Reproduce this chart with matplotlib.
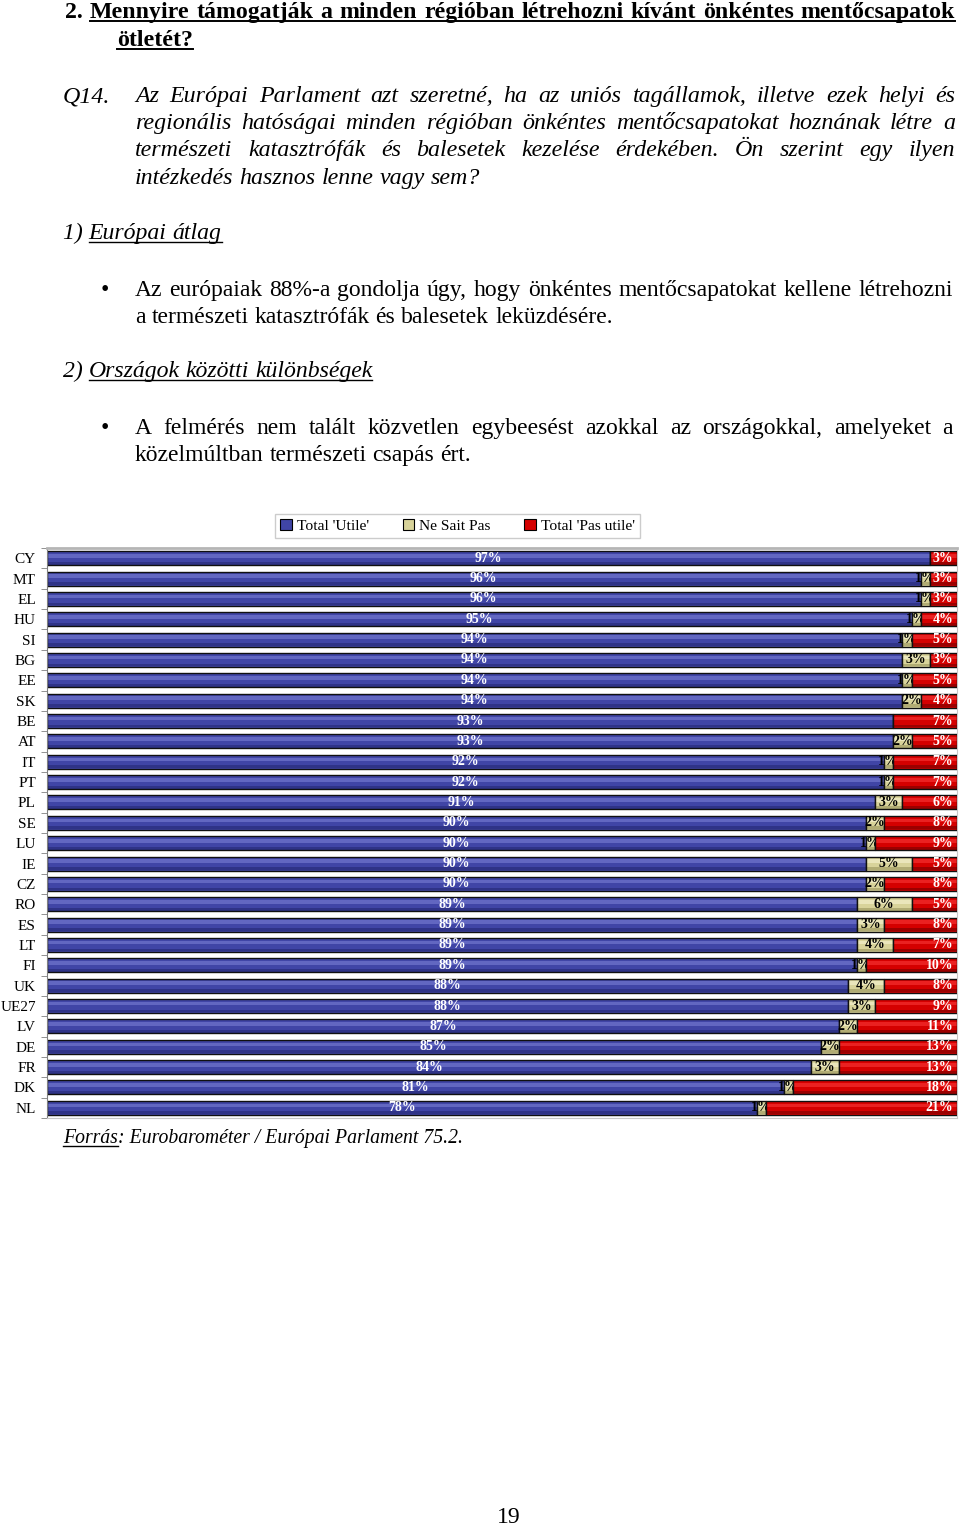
import matplotlib
matplotlib.use("Agg")
import matplotlib.pyplot as plt
from matplotlib.patches import Patch
from matplotlib.lines import Line2D
import numpy as np

# ---------------- data ----------------
countries = ["CY", "MT", "EL", "HU", "SI", "BG", "EE", "SK", "BE", "AT", "IT", "PT",
             "PL", "SE", "LU", "IE", "CZ", "RO", "ES", "LT", "FI", "UK", "UE27", "LV",
             "DE", "FR", "DK", "NL"]
utile = [97, 96, 96, 95, 94, 94, 94, 94, 93, 93, 92, 92,
         91, 90, 90, 90, 90, 89, 89, 89, 89, 88, 88, 87,
         85, 84, 81, 78]
nsp = [0, 1, 1, 1, 1, 3, 1, 2, 0, 2, 1, 1,
       3, 2, 1, 5, 2, 6, 3, 4, 1, 4, 3, 2,
       2, 3, 1, 1]
pas_utile = [3, 3, 3, 4, 5, 3, 5, 4, 7, 5, 7, 7,
             6, 8, 9, 5, 8, 5, 8, 7, 10, 8, 9, 11,
             13, 13, 18, 21]
series_names = ["Total 'Utile'", "Ne Sait Pas", "Total 'Pas utile'"]

W, H = 960, 1525
fig = plt.figure(figsize=(W / 100, H / 100), dpi=100)
R = fig.canvas.get_renderer()
SERIF = "Liberation Serif"


def fx(x):
    return x / W


def fy(y):
    return 1 - y / H


def measure(s, **kw):
    t = fig.text(0, 0, s, **kw)
    w = t.get_window_extent(R).width
    t.remove()
    return w


def fit(s, target, **kw):
    w = measure(s, fontsize=10, **kw)
    return 10.0 * target / w


def underline(x0, x1, ybase, off=3, lw=1.0):
    fig.add_artist(Line2D([fx(x0), fx(x1)], [fy(ybase + off), fy(ybase + off)],
                          transform=fig.transFigure, color="black", lw=lw))


def put_line(text, x0, x1, ybase, justify=True, **kw):
    words = text.split(" ")
    widths = [measure(w, **kw) for w in words]
    if justify and len(words) > 1:
        gap = (x1 - x0 - sum(widths)) / (len(words) - 1)
    else:
        gap = measure("a b", **kw) - measure("ab", **kw)
    x = x0
    for w, wd in zip(words, widths):
        fig.text(fx(x), fy(ybase), w, ha="left", va="baseline", **kw)
        x += wd + gap
    return x - gap


# ---------------- page text ----------------
head1 = "Mennyire támogatják a minden régióban létrehozni kívánt önkéntes mentőcsapatok"
bold_kw = dict(family=SERIF, weight="bold")
bold_kw["fontsize"] = fit(head1, 858, **bold_kw)
fig.text(fx(65), fy(18), "2.", ha="left", va="baseline", **bold_kw)
put_line(head1, 90, 955, 18, **bold_kw)
underline(90, 955, 18, off=2.5, lw=1.4)
xe = put_line("ötletét?", 117, 955, 46, justify=False, **bold_kw)
underline(117, xe, 46, off=2.5, lw=1.4)

q_kw = dict(family=SERIF, style="italic")
q_kw["fontsize"] = fit("intézkedés hasznos lenne vagy sem?", 345, **q_kw)
fig.text(fx(63), fy(102), "Q14.", ha="left", va="baseline", **q_kw)
q_lines = ["Az Európai Parlament azt szeretné, ha az uniós tagállamok, illetve ezek helyi és",
           "regionális hatóságai minden régióban önkéntes mentőcsapatokat hoznának létre a",
           "természeti katasztrófák és balesetek kezelése érdekében. Ön szerint egy ilyen",
           "intézkedés hasznos lenne vagy sem?"]
for i, ln in enumerate(q_lines):
    put_line(ln, 135, 955, 102 + 27.2 * i, justify=(i < 3), **q_kw)

it_kw = dict(family=SERIF, style="italic")
it_kw["fontsize"] = fit("2) Országok közötti különbségek", 310, **it_kw)
body_kw = dict(family=SERIF)
body_kw["fontsize"] = 0.5 * (fit("a természeti katasztrófák és balesetek leküzdésére.", 478, **body_kw)
                             + fit("közelmúltban természeti csapás ért.", 336, **body_kw))

# section 1
w1 = measure("1) ", **it_kw)
fig.text(fx(63), fy(239), "1) ", ha="left", va="baseline", **it_kw)
xe = put_line("Európai átlag", 63 + w1, 955, 239, justify=False, **it_kw)
underline(63 + w1, xe, 239, off=3)
fig.text(fx(105), fy(296), "•", ha="center", va="baseline", **body_kw)
put_line("Az európaiak 88%-a gondolja úgy, hogy önkéntes mentőcsapatokat kellene létrehozni",
         135, 953, 296, **body_kw)
put_line("a természeti katasztrófák és balesetek leküzdésére.", 135, 953, 323,
         justify=False, **body_kw)

# section 2
w2 = measure("2) ", **it_kw)
fig.text(fx(63), fy(377), "2) ", ha="left", va="baseline", **it_kw)
xe = put_line("Országok közötti különbségek", 63 + w2, 955, 377, justify=False, **it_kw)
underline(63 + w2, xe, 377, off=3)
fig.text(fx(105), fy(434), "•", ha="center", va="baseline", **body_kw)
put_line("A felmérés nem talált közvetlen egybeesést azokkal az országokkal, amelyeket a",
         135, 953, 434, **body_kw)
put_line("közelmúltban természeti csapás ért.", 135, 953, 461, justify=False, **body_kw)

# source
src_kw = dict(family=SERIF, style="italic")
src_kw["fontsize"] = fit("Forrás: Eurobarométer / Európai Parlament 75.2.", 401, **src_kw)
wf = measure("Forrás", **src_kw)
fig.text(fx(63), fy(1143), "Forrás", ha="left", va="baseline", **src_kw)
underline(63, 63 + wf, 1143, off=3)
fig.text(fx(63 + wf), fy(1143), ": Eurobarométer / Európai Parlament 75.2.",
         ha="left", va="baseline", **src_kw)

# page number
fig.text(fx(509), fy(1523), "19", ha="center", va="baseline", family=SERIF,
         fontsize=body_kw["fontsize"])

# ---------------- chart ----------------
ax = fig.add_axes([fx(47), fy(1118), (957 - 47) / W, (1118 - 548) / H])
n = len(countries)
y = np.arange(n)
utile_a = np.array(utile)
nsp_a = np.array(nsp)
pas_a = np.array(pas_utile)

h = 0.69
cols = [("#4045a6", "#6b70c8", "#2b2f80"),
        ("#d8d39a", "#efebc4", "#a8a36a"),
        ("#d50000", "#f02a2a", "#8e0000")]
lefts = [np.zeros(n), utile_a, utile_a + nsp_a]
vals = [utile_a, nsp_a, pas_a]
for k, (v, l, (cm, cl, cd)) in enumerate(zip(vals, lefts, cols)):
    z = 1 + 2 * k
    ax.barh(y, v, left=l, height=h, color=cm, edgecolor="none", zorder=z)
    ax.barh(y - 0.17 * h, v, left=l, height=0.26 * h, color=cl, edgecolor="none",
            zorder=z + 0.1, alpha=0.8)
    ax.barh(y + 0.36 * h, v, left=l, height=0.2 * h, color=cd, edgecolor="none",
            zorder=z + 0.1, alpha=0.8)
    ax.barh(y, v, left=l, height=h, fill=False, edgecolor="#101010", lw=1.0,
            zorder=z + 0.2)

lab_kw = dict(family=SERIF, weight="bold", fontsize=10, va="center")
for i in range(n):
    ax.text(utile_a[i] / 2, y[i], f"{utile_a[i]}%", ha="center", color="white",
            zorder=1.5, **lab_kw)
    if nsp_a[i] > 0:
        ax.text(utile_a[i] + nsp_a[i] / 2, y[i], f"{nsp_a[i]}%", ha="center",
                color="black", zorder=3.5, **lab_kw)
    if pas_a[i] > 0:
        ax.text(99.6, y[i], f"{pas_a[i]}%", ha="right", color="white",
                zorder=5.5, **lab_kw)

ax.set_xlim(0, 100)
ax.set_ylim(n - 0.5, -0.5)
ax.set_yticks(y)
ax.set_yticklabels(countries, family=SERIF, fontsize=11)
ax.set_yticks(np.arange(n + 1) - 0.5, minor=True)
ax.tick_params(axis="y", which="major", length=0, pad=8)
ax.tick_params(axis="y", which="minor", length=4, color="#808080", direction="out")
ax.set_xticks([])
ax.spines["left"].set_color("#808080")
ax.spines["top"].set_color("#b5b5b5")
ax.spines["top"].set_linewidth(2.0)
ax.spines["right"].set_color("#c8c8c8")
ax.spines["bottom"].set_color("#c8c8c8")
ax.set_facecolor("white")

handles = [Patch(facecolor=c[0], edgecolor="black", lw=0.8, label=s)
           for c, s in zip(cols, series_names)]
leg_fs = fit("Total 'Utile'", 72, family=SERIF)
leg = fig.legend(handles=handles, loc="center", bbox_to_anchor=(fx(457.5), fy(526)),
                 ncol=3, frameon=True, fancybox=False, edgecolor="#c0c0c0",
                 prop=dict(family=SERIF, size=leg_fs), handlelength=0.75,
                 handleheight=0.75, handletextpad=0.3, columnspacing=2.2,
                 borderpad=0.35)
leg.get_frame().set_linewidth(1.0)

fig.savefig("out.png", dpi=100)
